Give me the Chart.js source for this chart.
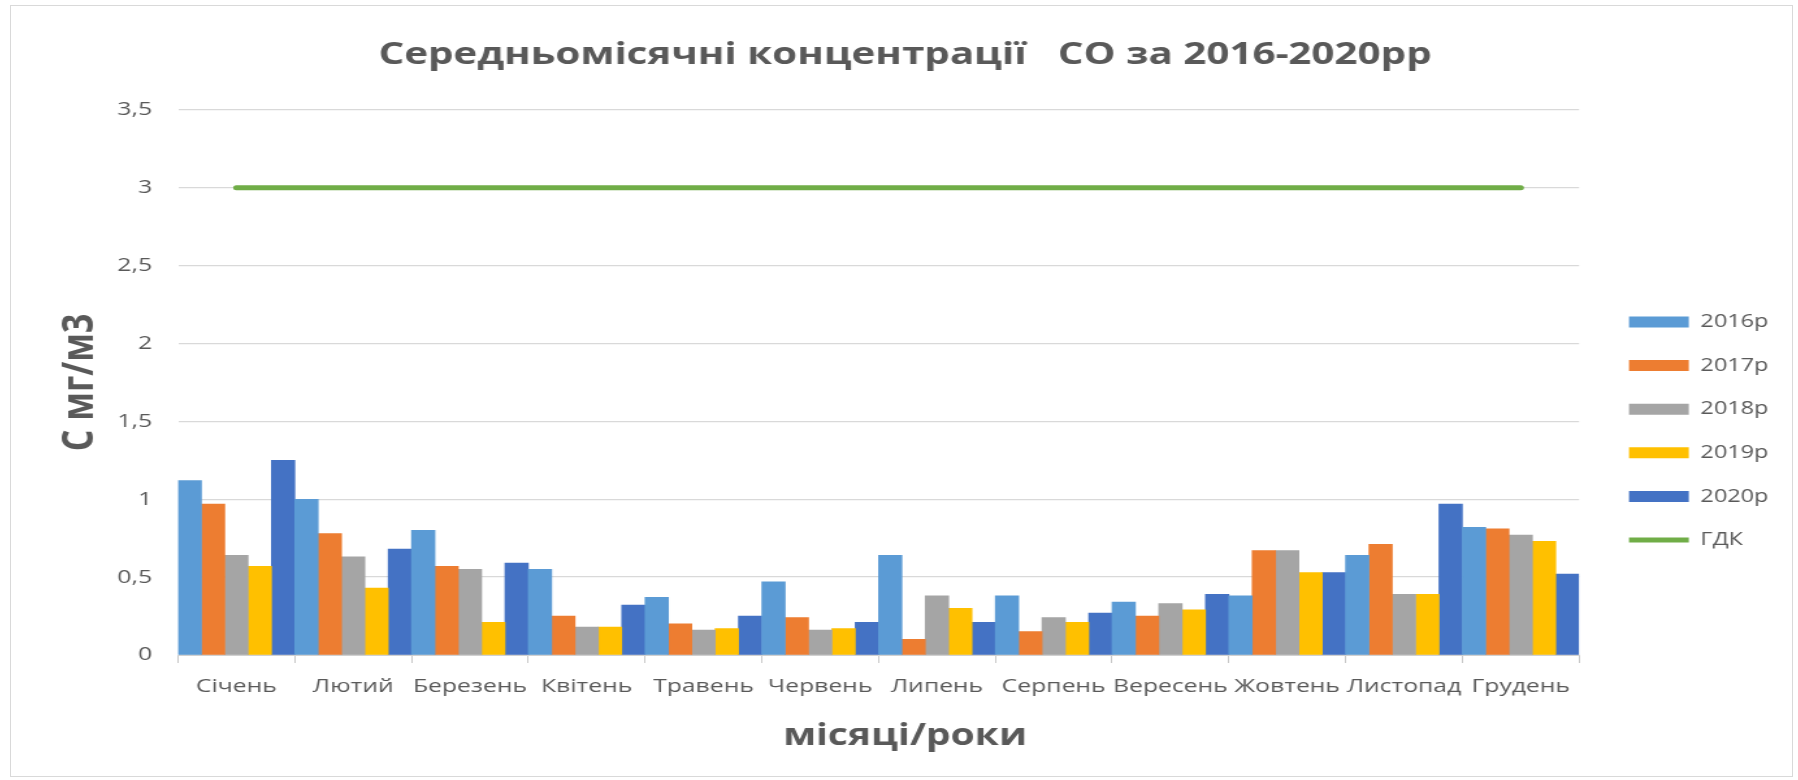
<!DOCTYPE html>
<html>
<head>
<meta charset="utf-8">
<script src="https://cdn.jsdelivr.net/npm/chart.js@4.4.1/dist/chart.umd.min.js"></script>
<style>
  html, body { margin: 0; padding: 0; background: #ffffff; }
  #wrap { position: absolute; left: 10px; top: 5px; width: 1781px; height: 770px; border: 1px solid #d9d9d9; background: #ffffff; }
</style>
</head>
<body>
<div id="wrap"><canvas id="c" width="1370" height="770" style="display:block;width:1781px;height:770px;"></canvas></div>
<script>
const months = ['Січень','Лютий','Березень','Квітень','Травень','Червень','Липень','Серпень','Вересень','Жовтень','Листопад','Грудень'];
const y2016 = [1.12, 1.00, 0.80, 0.55, 0.37, 0.47, 0.64, 0.38, 0.34, 0.38, 0.64, 0.82];
const y2017 = [0.97, 0.78, 0.57, 0.25, 0.20, 0.24, 0.10, 0.15, 0.25, 0.67, 0.71, 0.81];
const y2018 = [0.64, 0.63, 0.55, 0.18, 0.16, 0.16, 0.38, 0.24, 0.33, 0.67, 0.39, 0.77];
const y2019 = [0.57, 0.43, 0.21, 0.18, 0.17, 0.17, 0.30, 0.21, 0.29, 0.53, 0.39, 0.73];
const y2020 = [1.25, 0.68, 0.59, 0.32, 0.25, 0.21, 0.21, 0.27, 0.39, 0.53, 0.97, 0.52];
const gdk   = [3, 3, 3, 3, 3, 3, 3, 3, 3, 3, 3, 3];
const seriesNames = ['2016р','2017р','2018р','2019р','2020р','ГДК'];
const yTickLabels = ['0','0,5','1','1,5','2','2,5','3','3,5'];

const TXT = '#595959';
const PAD_L = 13.6;
Chart.defaults.font.family = "'Open Sans', sans-serif";
Chart.defaults.color = TXT;

const barCommon = { barPercentage: 1, categoryPercentage: 1, borderWidth: 0, pointStyle: 'rect' };

new Chart(document.getElementById('c'), {
  type: 'bar',
  data: {
    labels: months,
    datasets: [
      Object.assign({ label: seriesNames[0], data: y2016, backgroundColor: '#5B9BD5' }, barCommon),
      Object.assign({ label: seriesNames[1], data: y2017, backgroundColor: '#ED7D31' }, barCommon),
      Object.assign({ label: seriesNames[2], data: y2018, backgroundColor: '#A5A5A5' }, barCommon),
      Object.assign({ label: seriesNames[3], data: y2019, backgroundColor: '#FFC000' }, barCommon),
      Object.assign({ label: seriesNames[4], data: y2020, backgroundColor: '#4472C4' }, barCommon),
      { type: 'line', label: seriesNames[5], data: gdk, borderColor: '#70AD47', backgroundColor: '#70AD47',
        borderWidth: 5, pointRadius: 0, fill: false, borderCapStyle: 'round', pointStyle: 'line' }
    ]
  },
  options: {
    responsive: false,
    devicePixelRatio: 1,
    animation: false,
    layout: { padding: { left: PAD_L, right: 8.2, top: 0, bottom: 0 } },
    plugins: {
      tooltip: { enabled: false },
      title: {
        display: true,
        text: 'Середньомісячні концентрації   CO за 2016-2020рр',
        color: TXT,
        font: { size: 31, weight: 'bold' },
        padding: { top: 30.4, bottom: 36.4 }
      },
      subtitle: {
        display: true,
        position: 'bottom',
        text: 'місяці/роки',
        color: TXT,
        font: { size: 30, weight: 'bold' },
        padding: { top: 13.6, bottom: 21.4 }
      },
      legend: {
        position: 'right',
        align: 'center',
        title: { display: true, text: '', font: { size: 12 }, padding: { top: 65.6, bottom: 0 } },
        labels: {
          usePointStyle: true,
          pointStyleWidth: 46,
          boxHeight: 11,
          padding: 25.6,
          color: TXT,
          font: { size: 18 },
          generateLabels(chart) {
            const items = Chart.defaults.plugins.legend.labels.generateLabels(chart);
            items.forEach(it => {
              const ds = chart.data.datasets[it.datasetIndex];
              it.pointStyle = ds.type === 'line' ? 'line' : 'rect';
            });
            return items;
          }
        }
      }
    },
    scales: {
      x: {
        offset: true,
        grid: { display: true, drawOnChartArea: false, drawTicks: true, tickLength: 8, color: '#C8C8C8', offset: true },
        border: { display: true, color: '#D0D0D0', width: 1 },
        ticks: { autoSkip: false, maxRotation: 0, minRotation: 0, padding: 12, color: TXT, font: { size: 19 } },
        afterFit(s) { s.height = 50; }
      },
      y: {
        min: 0, max: 3.5,
        ticks: { stepSize: 0.5, padding: 20, color: TXT, font: { size: 19 },
                 callback: (v, i) => yTickLabels[i] },
        grid: { color: '#D9D9D9', lineWidth: 1.3, drawTicks: false },
        border: { display: false },
        title: { display: true, text: 'С мг/м3', color: TXT, font: { size: 34, weight: 'bold' }, padding: { top: 19, bottom: 0 } },
        afterFit(s) { s.width = 128.5 - PAD_L; }
      },
      y2: {
        position: 'right',
        display: true,
        grid: { display: false },
        border: { display: false },
        ticks: { display: false },
        afterFit(s) { s.width = 12.8; }
      }
    }
  }
});
</script>
</body>
</html>
